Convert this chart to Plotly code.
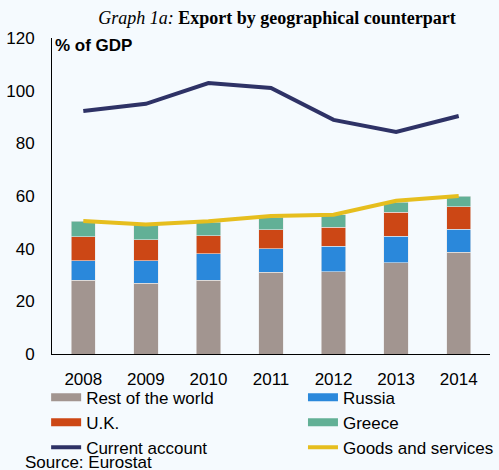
import plotly.graph_objects as go

years = ["2008", "2009", "2010", "2011", "2012", "2013", "2014"]
rest_of_world = [28.1, 26.8, 28.1, 31.0, 31.3, 34.7, 38.7]
russia = [7.3, 8.6, 10.0, 9.0, 9.7, 10.0, 8.6]
uk = [9.2, 8.0, 6.8, 7.1, 7.1, 9.1, 8.6]
greece = [5.9, 5.6, 5.1, 4.8, 4.8, 3.9, 4.1]
current_account = [92.3, 95.0, 102.9, 101.0, 88.9, 84.3, 90.4]
goods_services = [50.5, 49.2, 50.4, 52.4, 52.9, 58.2, 60.0]
y_ticks = [0, 20, 40, 60, 80, 100, 120]

BG = "#F5FAFE"
colors = {
    "Rest of the world": "#A29590",
    "Russia": "#2A88DB",
    "U.K.": "#CC4715",
    "Greece": "#62B096",
    "Current account": "#2E3266",
    "Goods and services": "#E6BE1E",
}

fig = go.Figure()
for name, vals in [("Rest of the world", rest_of_world), ("Russia", russia),
                   ("U.K.", uk), ("Greece", greece)]:
    fig.add_trace(go.Bar(x=years, y=vals, name=name, marker_color=colors[name],
                         marker_line=dict(color="#E8E8E8", width=0.6),
                         width=0.39, showlegend=False))

fig.add_trace(go.Scatter(x=years, y=current_account, mode="lines", name="Current account",
                         line=dict(color=colors["Current account"], width=4), showlegend=False))
fig.add_trace(go.Scatter(x=years, y=goods_services, mode="lines", name="Goods and services",
                         line=dict(color=colors["Goods and services"], width=4), showlegend=False))

# legend entries (two columns -> two legends)
for name, w, lg in [("Rest of the world", 8, "legend"), ("U.K.", 8, "legend"),
                    ("Current account", 4, "legend"),
                    ("Russia", 8, "legend2"), ("Greece", 8, "legend2"),
                    ("Goods and services", 4, "legend2")]:
    fig.add_trace(go.Scatter(x=[None], y=[None], mode="lines", name=name, legend=lg,
                             line=dict(color=colors[name], width=w), showlegend=True))

legend_common = dict(orientation="v", yanchor="top", xanchor="left",
                     bgcolor="rgba(0,0,0,0)", font=dict(size=17),
                     traceorder="normal", tracegroupgap=0)

fig.update_layout(
    width=499, height=470,
    paper_bgcolor=BG, plot_bgcolor=BG,
    barmode="stack",
    margin=dict(l=52, r=0, t=38, b=116),
    font=dict(family="Liberation Sans, Arial", size=17, color="#000000"),
    title=dict(text="<i>Graph 1a:</i> <b>Export by geographical counterpart</b>",
               x=0.555, xanchor="center", y=0.963, yanchor="middle",
               font=dict(family="Liberation Serif, Times New Roman", size=18)),
    xaxis=dict(showline=True, linecolor="#000000", linewidth=1, ticks="",
               showgrid=False, ticklabelstandoff=10, automargin=False),
    yaxis=dict(showline=True, linecolor="#000000", linewidth=1, ticks="",
               showgrid=False, zeroline=False, range=[0, 120], tickvals=y_ticks,
               ticklabelstandoff=13, automargin=False),
    legend=dict(x=-0.0134, y=-0.081, **legend_common),
    legend2=dict(x=0.573, y=-0.081, **legend_common),
    annotations=[
        dict(text="<b>% of GDP</b>", xref="paper", yref="paper", x=0.003, y=0.975,
             xanchor="left", yanchor="middle", showarrow=False, font=dict(size=17)),
        dict(text="Source: Eurostat", xref="paper", yref="paper", x=-0.067, y=-0.342,
             xanchor="left", yanchor="middle", showarrow=False, font=dict(size=17)),
    ],
)

fig.write_html("out.html", config={"displayModeBar": False},
               post_script="document.body.style.margin='0';")
